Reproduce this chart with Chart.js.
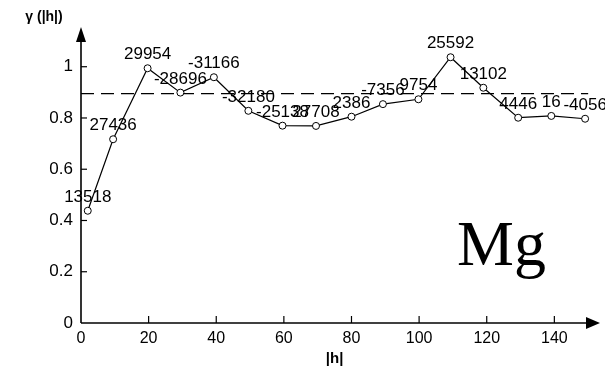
<!DOCTYPE html>
<html>
<head>
<meta charset="utf-8">
<title>Mg variogram</title>
<script src="https://cdn.jsdelivr.net/npm/chart.js@4.4.1/dist/chart.umd.min.js"></script>
<style>
    html, body { margin: 0; padding: 0; background: #fff; }
    #chart-box { width: 605px; height: 374px; }
</style>
</head>
<body>
<div id="chart-box"><canvas id="variogram-chart" width="605" height="374"></canvas></div>
<script>
// lag distances |h| and semivariance values
const lags = [2, 9.5, 19.7, 29.4, 39.3, 49.5, 59.6, 69.5, 80, 89.3, 99.8, 109.3, 119, 129.3, 139.1, 149.1];
const gammaValues = [0.438, 0.717, 0.994, 0.899, 0.959, 0.828, 0.770, 0.769, 0.805, 0.854, 0.873, 1.037, 0.918, 0.801, 0.808, 0.797];
const pointLabels = ['13518', '27436', '29954', '-28696', '-31166', '-32180', '-25138', '27708', '2386', '-7356', '9754', '25592', '13102', '4446', '16', '-4056'];
const sillValue = 0.895;
const sillRange = [0, 150];
const xTicks = [0, 20, 40, 60, 80, 100, 120, 140];
const yTicks = [0, 0.2, 0.4, 0.6, 0.8, 1];
const elementName = 'Mg';
const xTitle = '|h|';
const yTitle = 'γ (|h|)';

document.addEventListener('DOMContentLoaded', () => {
    const sansFont = "'Liberation Sans', Arial, sans-serif";

    // axes with arrows, inward ticks and all free text
    const decorations = {
        id: 'decorations',
        afterDatasetsDraw(chart) {
            const { ctx, chartArea, scales } = chart;
            const x = scales.x;
            const y = scales.y;
            const x0 = x.getPixelForValue(0);
            const y0 = y.getPixelForValue(0);

            ctx.save();
            ctx.strokeStyle = '#000';
            ctx.fillStyle = '#000';
            ctx.lineWidth = 1.6;

            // x axis
            ctx.beginPath();
            ctx.moveTo(x0, y0);
            ctx.lineTo(chartArea.right - 6, y0);
            ctx.stroke();
            ctx.beginPath();
            ctx.moveTo(chartArea.right, y0);
            ctx.lineTo(chartArea.right - 14, y0 - 6);
            ctx.lineTo(chartArea.right - 14, y0 + 6);
            ctx.closePath();
            ctx.fill();

            // y axis
            ctx.beginPath();
            ctx.moveTo(x0, y0);
            ctx.lineTo(x0, chartArea.top + 6);
            ctx.stroke();
            ctx.beginPath();
            ctx.moveTo(x0, chartArea.top);
            ctx.lineTo(x0 - 5, chartArea.top + 15);
            ctx.lineTo(x0 + 5, chartArea.top + 15);
            ctx.closePath();
            ctx.fill();

            // tick marks pointing into the plot
            ctx.lineWidth = 1.2;
            xTicks.slice(1).forEach(v => {
                const px = x.getPixelForValue(v);
                ctx.beginPath();
                ctx.moveTo(px, y0);
                ctx.lineTo(px, y0 - 7);
                ctx.stroke();
            });
            yTicks.slice(1).forEach(v => {
                const py = y.getPixelForValue(v);
                ctx.beginPath();
                ctx.moveTo(x0, py);
                ctx.lineTo(x0 + 6, py);
                ctx.stroke();
            });

            // pair counts above each point
            const meta = chart.getDatasetMeta(0);
            ctx.font = '17px ' + sansFont;
            ctx.textAlign = 'center';
            ctx.textBaseline = 'middle';
            meta.data.forEach((pt, i) => {
                ctx.fillText(pointLabels[i], pt.x, pt.y - 13.5);
            });

            // axis titles
            ctx.font = 'bold 14px ' + sansFont;
            ctx.fillText(yTitle, 44, 17);
            ctx.font = 'bold 15px ' + sansFont;
            ctx.fillText(xTitle, x.getPixelForValue(75), 359);

            // element name
            ctx.font = "64px 'Liberation Serif', 'Times New Roman', serif";
            ctx.textAlign = 'left';
            ctx.textBaseline = 'alphabetic';
            ctx.fillText(elementName, 457, 265);

            ctx.restore();
        }
    };

    const ctx = document.getElementById('variogram-chart').getContext('2d');
    new Chart(ctx, {
        type: 'scatter',
        data: {
            datasets: [
                {
                    data: lags.map((h, i) => ({ x: h, y: gammaValues[i] })),
                    showLine: true,
                    borderColor: '#000',
                    borderWidth: 1.2,
                    pointRadius: 3.5,
                    pointBorderWidth: 1,
                    pointBackgroundColor: '#fff',
                    pointBorderColor: '#000',
                    order: 1
                },
                {
                    data: sillRange.map(h => ({ x: h, y: sillValue })),
                    showLine: true,
                    borderColor: '#000',
                    borderWidth: 1.4,
                    borderDash: [13, 7],
                    pointRadius: 0,
                    order: 2
                }
            ]
        },
        options: {
            responsive: false,
            animation: false,
            devicePixelRatio: 1,
            layout: { padding: { top: 27, left: 0, right: 0, bottom: 0 } },
            plugins: {
                legend: { display: false },
                tooltip: { enabled: false }
            },
            scales: {
                x: {
                    type: 'linear',
                    min: 0,
                    max: 153.5,
                    grid: { display: false, drawTicks: false },
                    border: { display: false },
                    afterBuildTicks: scale => { scale.ticks = xTicks.map(v => ({ value: v })); },
                    afterFit: scale => { scale.height = 51; },
                    ticks: {
                        color: '#000',
                        padding: 6,
                        maxRotation: 0,
                        autoSkip: false,
                        font: { family: sansFont, size: 16 }
                    }
                },
                y: {
                    type: 'linear',
                    min: 0,
                    max: 1.155,
                    grid: { display: false, drawTicks: false },
                    border: { display: false },
                    afterBuildTicks: scale => { scale.ticks = yTicks.map(v => ({ value: v })); },
                    afterFit: scale => { scale.width = 81; },
                    ticks: {
                        color: '#000',
                        padding: 8,
                        font: { family: sansFont, size: 17 },
                        callback: v => String(Math.round(v * 10) / 10)
                    }
                }
            }
        },
        plugins: [decorations]
    });
});
</script>
</body>
</html>
